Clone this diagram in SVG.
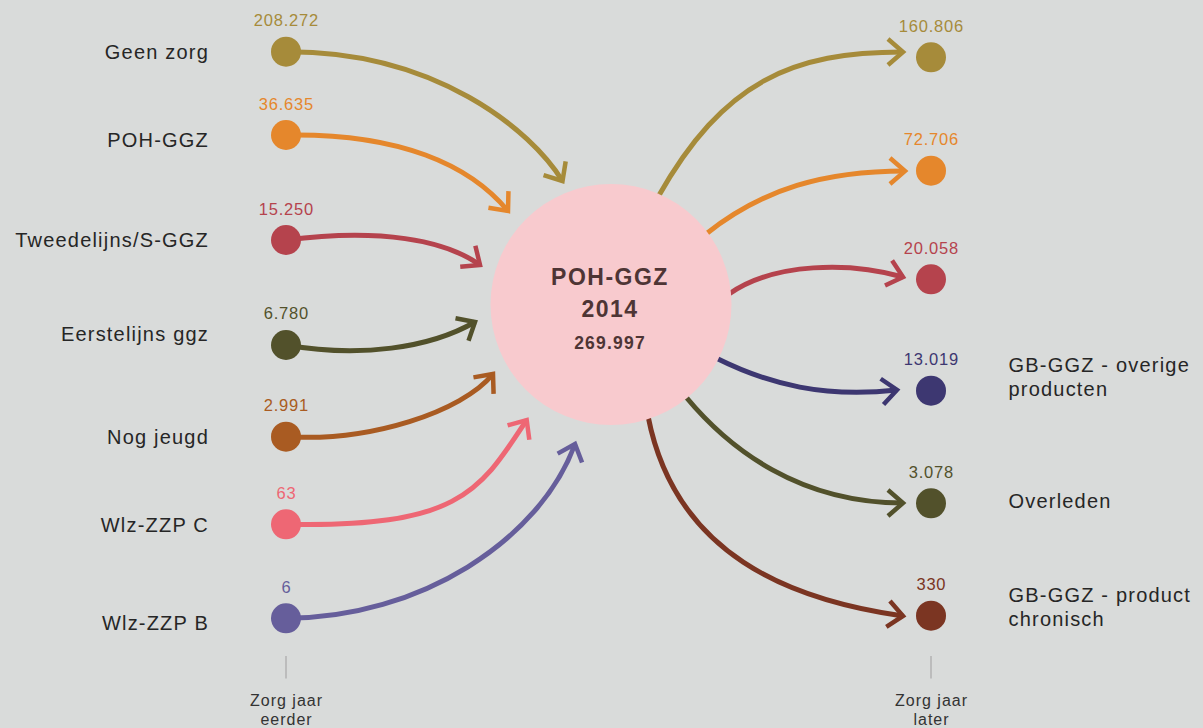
<svg xmlns="http://www.w3.org/2000/svg" width="1203" height="728" viewBox="0 0 1203 728">
<style>
text{font-family:"Liberation Sans",Arial,sans-serif}
.lbl{font-size:20px;fill:#262626;letter-spacing:1.2px}
.lblL{text-anchor:end}
.num{font-size:16.5px;letter-spacing:0.8px;text-anchor:middle}
.ctr{font-weight:bold;fill:#4e3535;text-anchor:middle}
.axis{font-size:16px;fill:#333;letter-spacing:1px;text-anchor:middle}
.tick{stroke:#b2b2b2;stroke-width:1.5}
.c{fill:none;stroke-width:5}
.gold{fill:#a68b3a}.s-gold{stroke:#a68b3a}
.orange{fill:#e5872c}.s-orange{stroke:#e5872c}
.red{fill:#b5434d}.s-red{stroke:#b5434d}
.olive{fill:#52512b}.s-olive{stroke:#52512b}
.brown{fill:#a95b22}.s-brown{stroke:#a95b22}
.pink{fill:#ee6774}.s-pink{stroke:#ee6774}
.purple{fill:#665e9b}.s-purple{stroke:#665e9b}
.navy{fill:#3d3771}.s-navy{stroke:#3d3771}
.rust{fill:#7b3522}.s-rust{stroke:#7b3522}
.ah{fill:none;stroke-width:4.5;stroke-linejoin:miter}
</style>
<defs>
<marker id="m-gold" markerUnits="userSpaceOnUse" orient="auto" overflow="visible" markerWidth="40" markerHeight="40" refX="0" refY="0"><path class="ah s-gold" d="M-15,-13 L0,0 L-15,13"/></marker>
<marker id="m-orange" markerUnits="userSpaceOnUse" orient="auto" overflow="visible" markerWidth="40" markerHeight="40" refX="0" refY="0"><path class="ah s-orange" d="M-15,-13 L0,0 L-15,13"/></marker>
<marker id="m-red" markerUnits="userSpaceOnUse" orient="auto" overflow="visible" markerWidth="40" markerHeight="40" refX="0" refY="0"><path class="ah s-red" d="M-15,-13 L0,0 L-15,13"/></marker>
<marker id="m-olive" markerUnits="userSpaceOnUse" orient="auto" overflow="visible" markerWidth="40" markerHeight="40" refX="0" refY="0"><path class="ah s-olive" d="M-15,-13 L0,0 L-15,13"/></marker>
<marker id="m-brown" markerUnits="userSpaceOnUse" orient="auto" overflow="visible" markerWidth="40" markerHeight="40" refX="0" refY="0"><path class="ah s-brown" d="M-15,-13 L0,0 L-15,13"/></marker>
<marker id="m-pink" markerUnits="userSpaceOnUse" orient="auto" overflow="visible" markerWidth="40" markerHeight="40" refX="0" refY="0"><path class="ah s-pink" d="M-15,-13 L0,0 L-15,13"/></marker>
<marker id="m-purple" markerUnits="userSpaceOnUse" orient="auto" overflow="visible" markerWidth="40" markerHeight="40" refX="0" refY="0"><path class="ah s-purple" d="M-15,-13 L0,0 L-15,13"/></marker>
<marker id="m-navy" markerUnits="userSpaceOnUse" orient="auto" overflow="visible" markerWidth="40" markerHeight="40" refX="0" refY="0"><path class="ah s-navy" d="M-15,-13 L0,0 L-15,13"/></marker>
<marker id="m-rust" markerUnits="userSpaceOnUse" orient="auto" overflow="visible" markerWidth="40" markerHeight="40" refX="0" refY="0"><path class="ah s-rust" d="M-15,-13 L0,0 L-15,13"/></marker>
</defs>
<rect width="1203" height="728" fill="#d9dbda"/>

<g id="connectors">
<path class="c s-gold" marker-end="url(#m-gold)" d="M286,51.7 C436,51 531,130 562.5,181"/>
<path class="c s-orange" marker-end="url(#m-orange)" d="M286,135 C400,133 470,165 508,211"/>
<path class="c s-red" marker-end="url(#m-red)" d="M286,240 C380,228 445,240 480,265"/>
<path class="c s-olive" marker-end="url(#m-olive)" d="M286,345 C360,358 430,348 475,322"/>
<path class="c s-brown" marker-end="url(#m-brown)" d="M286,436.7 C370,442 462,412 493,374"/>
<path class="c s-pink" marker-end="url(#m-pink)" d="M286,524.3 C460,528 480,491 526.7,420"/>
<path class="c s-purple" marker-end="url(#m-purple)" d="M286,618.3 C420,618 540,540 575,444"/>
<path class="c s-gold" marker-end="url(#m-gold)" d="M658,197 C723.7,80.6 793,52 903,52"/>
<path class="c s-orange" marker-end="url(#m-orange)" d="M706,234 C763.3,188.6 825,171 905,171"/>
<path class="c s-red" marker-end="url(#m-red)" d="M729,294 C775,262 850,262 903,277"/>
<path class="c s-navy" marker-end="url(#m-navy)" d="M716,358 C770,385 825,398 897,390"/>
<path class="c s-olive" marker-end="url(#m-olive)" d="M686,397 C730,450 800,503 903,503"/>
<path class="c s-rust" marker-end="url(#m-rust)" d="M648,416 C675,555 790,600 903,616"/>
</g>

<g id="center">
<circle cx="611" cy="304.5" r="120.5" fill="#f8cace"/>
<text class="ctr" x="610" y="285" font-size="23" letter-spacing="1.5">POH-GGZ</text>
<text class="ctr" x="610" y="317.3" font-size="23" letter-spacing="1.5">2014</text>
<text class="ctr" x="610" y="349.3" font-size="17.5" letter-spacing="1.2">269.997</text>
</g>

<g id="in-geen-zorg">
<text class="lbl lblL" x="209" y="58.7">Geen zorg</text>
<circle class="gold" cx="286" cy="51.7" r="15"/>
<text class="num gold" x="286.4" y="26">208.272</text>
</g>
<g id="in-poh-ggz">
<text class="lbl lblL" x="209" y="147.3">POH-GGZ</text>
<circle class="orange" cx="286" cy="135" r="15"/>
<text class="num orange" x="286.4" y="109.5">36.635</text>
</g>
<g id="in-tweedelijns">
<text class="lbl lblL" x="209" y="246.7">Tweedelijns/S-GGZ</text>
<circle class="red" cx="286" cy="240" r="15"/>
<text class="num red" x="286.4" y="214.5">15.250</text>
</g>
<g id="in-eerstelijns">
<text class="lbl lblL" x="209" y="340.7">Eerstelijns ggz</text>
<circle class="olive" cx="286" cy="345" r="15"/>
<text class="num olive" x="286.4" y="319.3">6.780</text>
</g>
<g id="in-nog-jeugd">
<text class="lbl lblL" x="209" y="444">Nog jeugd</text>
<circle class="brown" cx="286" cy="436.7" r="15"/>
<text class="num brown" x="286.4" y="411">2.991</text>
</g>
<g id="in-wlz-c">
<text class="lbl lblL" x="209" y="532.3">Wlz-ZZP C</text>
<circle class="pink" cx="286" cy="524.3" r="15"/>
<text class="num pink" x="286.4" y="498.6">63</text>
</g>
<g id="in-wlz-b">
<text class="lbl lblL" x="209" y="630">Wlz-ZZP B</text>
<circle class="purple" cx="286" cy="618.3" r="15"/>
<text class="num purple" x="286.4" y="592.6">6</text>
</g>

<g id="out-geen-zorg">
<circle class="gold" cx="931" cy="57.3" r="15"/>
<text class="num gold" x="931.4" y="31.7">160.806</text>
</g>
<g id="out-poh-ggz">
<circle class="orange" cx="931" cy="170.7" r="15"/>
<text class="num orange" x="931.4" y="145">72.706</text>
</g>
<g id="out-tweedelijns">
<circle class="red" cx="931" cy="279.3" r="15"/>
<text class="num red" x="931.4" y="253.6">20.058</text>
</g>
<g id="out-gb-overige">
<circle class="navy" cx="931" cy="390.7" r="15"/>
<text class="num navy" x="931.4" y="365">13.019</text>
<text class="lbl" x="1008.5" y="371.7">GB-GGZ - overige</text>
<text class="lbl" x="1008.5" y="395.5">producten</text>
</g>
<g id="out-overleden">
<circle class="olive" cx="931" cy="503.3" r="15"/>
<text class="num olive" x="931.4" y="477.6">3.078</text>
<text class="lbl" x="1008.5" y="508.3">Overleden</text>
</g>
<g id="out-gb-chronisch">
<circle class="rust" cx="931" cy="615.7" r="15"/>
<text class="num rust" x="931.4" y="590">330</text>
<text class="lbl" x="1008.5" y="601.7">GB-GGZ - product</text>
<text class="lbl" x="1008.5" y="626">chronisch</text>
</g>

<g id="axis-left">
<line class="tick" x1="286" y1="656" x2="286" y2="678.5"/>
<text class="axis" x="286.5" y="705.7">Zorg jaar</text>
<text class="axis" x="286.5" y="725">eerder</text>
</g>
<g id="axis-right">
<line class="tick" x1="931" y1="656" x2="931" y2="678.5"/>
<text class="axis" x="931.5" y="705.7">Zorg jaar</text>
<text class="axis" x="931.5" y="725">later</text>
</g>
</svg>
